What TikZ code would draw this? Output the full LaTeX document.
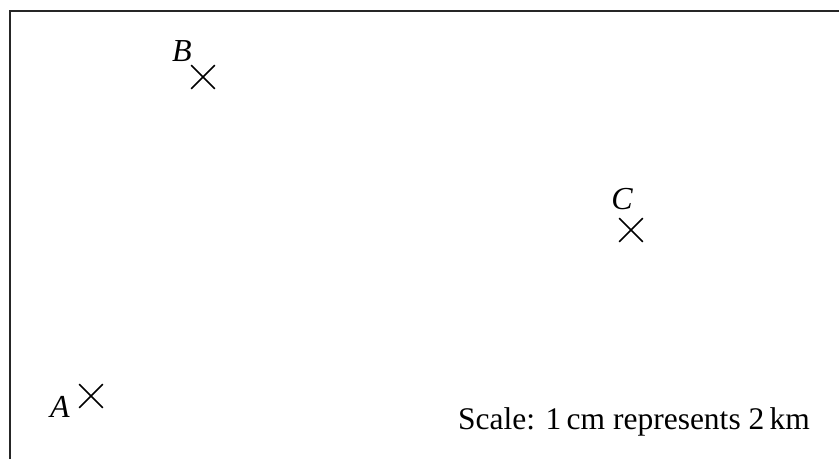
\documentclass[tikz,border=0pt]{standalone}
\usepackage{fontspec}
\setmainfont{Liberation Serif}
\usetikzlibrary{shapes.misc}
\tikzstyle{point}=[cross out,draw,minimum size=22pt,inner sep=0pt,line width=1.6pt]
\tikzstyle{lbl}=[inner sep=0pt,anchor=base,font=\fontsize{32}{36}\selectfont\itshape]
\begin{document}
\begin{tikzpicture}[x=1pt,y=-1pt]
		\useasboundingbox (0,0) rectangle (839,459);
		% frame
		\draw[line width=1.5pt,black!85] (10,459) -- (10,11) -- (839,11);
		% the points
		\node[point] (A) at (91,396) {};
		\node[point] (B) at (203,77) {};
		\node[point] (C) at (631,230) {};
		\node[lbl] (labA) at (60,417) {A};
		\node[lbl] (labB) at (182,61) {B};
		\node[lbl] (labC) at (622,209) {C};
		\node[inner sep=0pt,anchor=base west,font=\fontsize{31.5}{36}\selectfont] (scale) at (458,429) {Scale: 1\,cm represents 2\,km};
		\end{tikzpicture}
\end{document}
